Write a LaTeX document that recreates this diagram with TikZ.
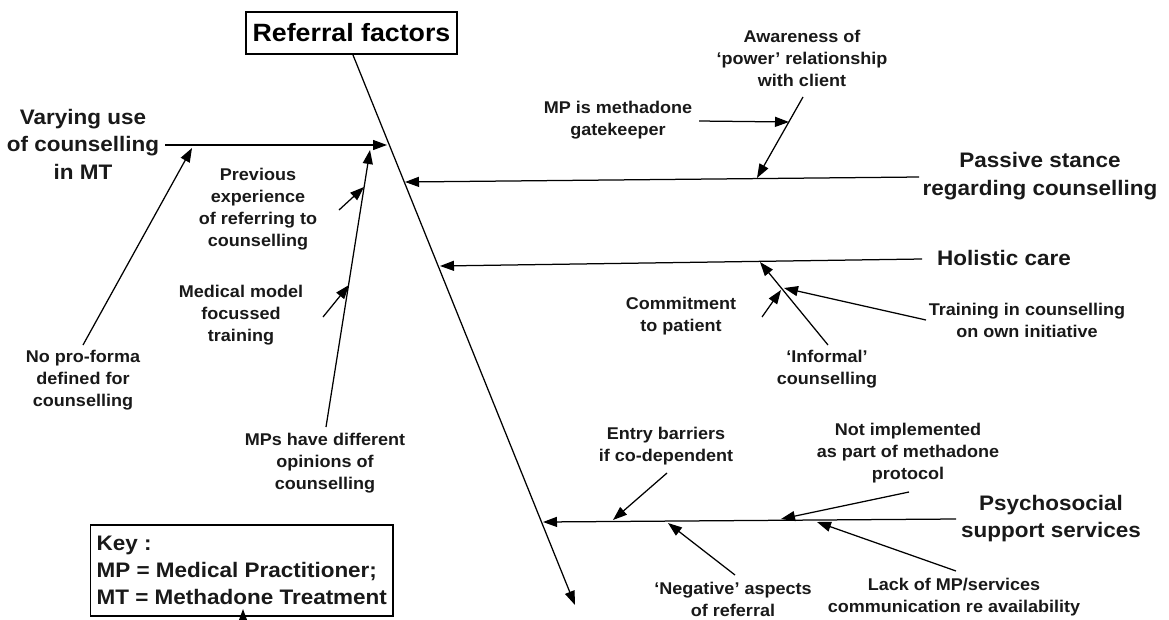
\documentclass[tikz,border=0pt]{standalone}
\usepackage{fontspec}
\setmainfont{Liberation Sans}
\usetikzlibrary{arrows.meta}
\begin{document}
\begin{tikzpicture}[x=1pt,y=-1pt,
  ln/.style={line width=1.25pt, draw=black},
  arr/.style={ln, -{Triangle[length=14pt,width=10pt]}},
  small/.style={font=\bfseries\fontsize{17}{22}\selectfont, align=center, inner sep=0pt, xscale=1.06, text=black!90},
  big/.style={font=\bfseries\fontsize{21}{27.5}\selectfont, align=center, inner sep=0pt, xscale=1.07, text=black!90},
  boxed/.style={draw, line width=1.4pt}
]
\useasboundingbox (0,0) rectangle (1169,619);
\fill[white] (0,0) rectangle (1169,619);

% title and spine
\node[boxed, font=\bfseries\fontsize{25}{30}\selectfont, xscale=1.07, inner sep=0pt,
      minimum width=197pt, minimum height=42pt] (title) at (351.5,33) {Referral factors};
\coordinate (spT) at (575,605);
\draw[arr] (353,55) coordinate (sp0) -- (spT);

% ---- left branch: Varying use of counselling in MT
\node[big] (vary) at (83,144) {Varying use\\of counselling\\in MT};
\coordinate (v0) at (165,145);
\coordinate (vT) at (387,145);
\draw[arr] (v0) -- (vT);

\node[small] (nopro) at (83,380) {No pro-forma\\defined for\\counselling};
\coordinate (np0) at (83,345);
\coordinate (npT) at (192,148);
\draw[arr] (np0) -- (npT);

\node[small] (mps) at (325,463) {MPs have different\\opinions of\\counselling};
\coordinate (mp0) at (326,427);
\coordinate (mpT) at (370,150);
\draw[arr] (mp0) -- (mpT);

\node[small] (prev) at (258,209) {Previous\\experience\\of referring to\\counselling};
\coordinate (pv0) at (339,210);
\coordinate (pvT) at (364,187);
\draw[arr] (pv0) -- (pvT);

\node[small] (med) at (241,315) {Medical model\\focussed\\training};
\coordinate (md0) at (323,317);
\coordinate (mdT) at (349,285);
\draw[arr] (md0) -- (mdT);

% ---- Passive stance
\node[big] (passive) at (1040,176) {Passive stance\\regarding counselling};
\coordinate (ps0) at (919,177);
\coordinate (psT) at (405,182);
\draw[arr] (ps0) -- (psT);

\node[small] (aware) at (802,58) {Awareness of\\‘power’ relationship\\with client};
\coordinate (aw0) at (803,97);
\coordinate (awT) at (757,178);
\draw[arr] (aw0) -- (awT);

\node[small] (gate) at (618,120) {MP is methadone\\gatekeeper};
\coordinate (gt0) at (699,121);
\coordinate (gtT) at (789,122);
\draw[arr] (gt0) -- (gtT);

% ---- Holistic care
\node[big, anchor=west] (holistic) at (937,258) {Holistic care};
\coordinate (hc0) at (922,259);
\coordinate (hcT) at (440,266);
\draw[arr] (hc0) -- (hcT);

\node[small] (informal) at (827,369) {‘Informal’\\counselling};
\coordinate (in0) at (828,345);
\coordinate (inT) at (760,262);
\draw[arr] (in0) -- (inT);

\node[small] (commit) at (681,316) {Commitment\\to patient};
\coordinate (cm0) at (762,317);
\coordinate (cmT) at (781,290);
\draw[arr] (cm0) -- (cmT);

\node[small] (train) at (1027,320.5) {Training in counselling\\on own initiative};
\coordinate (tr0) at (926,320);
\coordinate (trT) at (784,288);
\draw[arr] (tr0) -- (trT);

% ---- Psychosocial support services
\node[big] (psycho) at (1051,518.5) {Psychosocial\\support services};
\coordinate (py0) at (956,519);
\coordinate (pyT) at (543,522);
\draw[arr] (py0) -- (pyT);

\node[small] (entry) at (666,446) {Entry barriers\\if co-dependent};
\coordinate (en0) at (667,473);
\coordinate (enT) at (613,520);
\draw[arr] (en0) -- (enT);

\node[small] (notimp) at (908,453.5) {Not implemented\\as part of methadone\\protocol};
\coordinate (ni0) at (909,492);
\coordinate (niT) at (781,519);
\draw[arr] (ni0) -- (niT);

\node[small] (neg) at (733,599) {‘Negative’ aspects\\of referral};
\coordinate (ng0) at (735,575);
\coordinate (ngT) at (668,523);
\draw[arr] (ng0) -- (ngT);

\node[small] (lack) at (954,597.5) {Lack of MP/services\\communication re availability};
\coordinate (lk0) at (956,571);
\coordinate (lkT) at (817,522);
\draw[arr] (lk0) -- (lkT);

% ---- Key
\node[boxed, font=\bfseries\fontsize{21}{27}\selectfont, align=left, xscale=1.07,
      inner xsep=5.5pt, inner ysep=0pt, minimum height=91pt, anchor=west, text=black!90] (key) at (90,570.5)
  {Key :\\MP = Medical Practitioner;\\MT = Methadone Treatment};
\coordinate (k0) at (243,640);
\coordinate (kT) at (243,609);
\draw[arr] (k0) -- (kT);
\end{tikzpicture}
\end{document}
